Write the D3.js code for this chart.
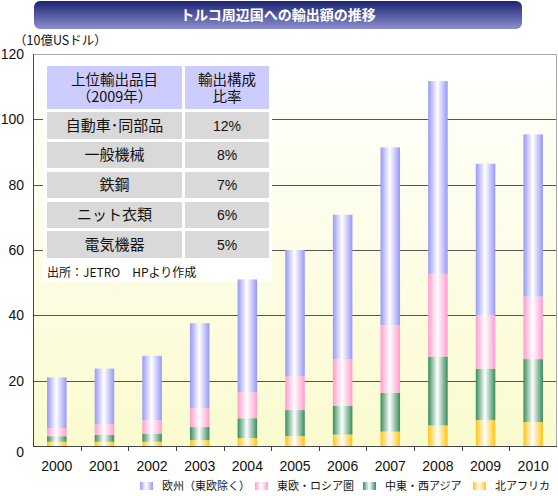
<!DOCTYPE html>
<html>
<head>
<meta charset="utf-8">
<script src="https://cdn.jsdelivr.net/npm/d3@7"></script>
<style type="text/css">
  body{
    margin: 0px;
    background: white;
  }
  text{
    font-family: 'Liberation Sans', 'Noto Sans CJK JP', sans-serif;
    fill: #111;
  }
  .jp{
    font-family: 'Noto Sans CJK JP', sans-serif;
  }
  .grid line{
    stroke: #555;
    stroke-width: 1px;
  }
</style>
</head>
<body>
<script>

// ---- data ----
var years = ["2000","2001","2002","2003","2004","2005","2006","2007","2008","2009","2010"];

var northAfrica = [1.3, 1.3, 1.3, 1.8, 2.4, 3.0, 3.5, 4.4, 6.3, 7.9, 7.3];
var middleEast  = [1.7, 2.1, 2.5, 4.0, 6.1, 8.0, 8.8, 11.9, 21.1, 15.8, 19.3];
var eastEurope  = [2.5, 3.3, 4.1, 5.8, 8.0, 10.4, 14.2, 20.7, 25.3, 16.4, 19.1];
var europe      = [15.5, 17.0, 19.7, 26.0, 34.5, 38.6, 44.3, 54.4, 59.0, 46.3, 49.7];

// stack order: bottom first
var seriesNames  = ["北アフリカ", "中東・西アジア", "東欧・ロシア圏", "欧州（東欧除く）"];
var seriesValues = [northAfrica, middleEast, eastEurope, europe];
var seriesColors = ["#ffc414", "#388d5c", "#ff9ccf", "#9898f6"];

var yTicks = [0, 20, 40, 60, 80, 100, 120];

var tableHeader = ["上位輸出品目\n（2009年）", "輸出構成\n比率"];
var tableItems  = ["自動車･同部品", "一般機械", "鉄鋼", "ニット衣類", "電気機器"];
var tableShares = ["12%", "8%", "7%", "6%", "5%"];

var titleText  = "トルコ周辺国への輸出額の推移";
var unitText   = "（10億USドル）";
var sourceText = "出所：JETRO　HPより作成";

// ---- layout ----
var W = 558, H = 496;
var plot = {left: 33, right: 557, top: 54, bottom: 446};

var svg = d3.select("body").append("svg")
    .attr("width", W)
    .attr("height", H);

var defs = svg.append("defs");

// title banner gradient
var tg = defs.append("linearGradient").attr("id", "titleGrad")
    .attr("x1", 0).attr("y1", 0).attr("x2", 0).attr("y2", 1);
tg.append("stop").attr("offset", "0%").attr("stop-color", "#1b2370");
tg.append("stop").attr("offset", "100%").attr("stop-color", "#8d8fcf");

// plot background
var bg = defs.append("linearGradient").attr("id", "bgGrad")
    .attr("x1", 0).attr("y1", 0).attr("x2", 0).attr("y2", 1);
bg.append("stop").attr("offset", "0%").attr("stop-color", "#ffffff");
bg.append("stop").attr("offset", "100%").attr("stop-color", "#fbfbcf");

// cylinder-like gradients for the bars
seriesColors.forEach(function(c, i) {
  var g = defs.append("linearGradient").attr("id", "barGrad" + i)
      .attr("x1", 0).attr("y1", 0).attr("x2", 1).attr("y2", 0);
  g.append("stop").attr("offset", "0%").attr("stop-color", c);
  g.append("stop").attr("offset", "47%").attr("stop-color", "#ffffff");
  g.append("stop").attr("offset", "100%").attr("stop-color", c);
});

// title
svg.append("rect")
    .attr("x", 34).attr("y", 1)
    .attr("width", 488).attr("height", 28)
    .attr("rx", 6)
    .attr("fill", "url(#titleGrad)");

svg.append("text")
    .attr("class", "jp")
    .attr("x", 278).attr("y", 20)
    .attr("text-anchor", "middle")
    .style("font-size", "14px")
    .style("font-weight", "bold")
    .style("fill", "white")
    .text(titleText);

svg.append("text")
    .attr("class", "jp")
    .attr("x", 14).attr("y", 45)
    .style("font-size", "12.5px")
    .text(unitText);

// scales
var x = d3.scaleBand()
    .domain(years)
    .range([plot.left, plot.right])
    .paddingInner(0.59)
    .paddingOuter(0.295);

var y = d3.scaleLinear()
    .domain([0, 120])
    .range([plot.bottom, plot.top]);

// plot background
svg.append("rect")
    .attr("x", plot.left).attr("y", plot.top)
    .attr("width", plot.right - plot.left).attr("height", plot.bottom - plot.top)
    .attr("fill", "url(#bgGrad)");

// gridlines
svg.append("g").attr("class", "grid")
  .selectAll("line")
  .data(yTicks.filter(function(d) { return d > 0 && d < 120; }))
  .enter().append("line")
    .attr("x1", plot.left).attr("x2", plot.right)
    .attr("y1", function(d) { return Math.round(y(d)) + 0.5; })
    .attr("y2", function(d) { return Math.round(y(d)) + 0.5; });

// frame top/right
svg.append("path")
    .attr("d", "M" + plot.left + "," + (plot.top + 0.5) + "H" + (plot.right - 0.5) + "V" + plot.bottom)
    .attr("fill", "none")
    .attr("stroke", "#a8a8a8");

// white box behind the table
svg.append("rect")
    .attr("x", 43).attr("y", 60)
    .attr("width", 229).attr("height", 222)
    .attr("fill", "white");

// stacked bars
var stackRows = years.map(function(yr, i) {
  var r = {year: yr};
  seriesNames.forEach(function(n, k) { r[n] = seriesValues[k][i]; });
  return r;
});
var stacked = d3.stack().keys(seriesNames)(stackRows);

svg.append("g").selectAll("g")
  .data(stacked)
  .enter().append("g")
    .attr("fill", function(d, i) { return "url(#barGrad" + i + ")"; })
  .selectAll("rect")
  .data(function(d) { return d; })
  .enter().append("rect")
    .attr("x", function(d) { return x(d.data.year); })
    .attr("width", x.bandwidth())
    .attr("y", function(d) { return y(d[1]); })
    .attr("height", function(d) { return y(d[0]) - y(d[1]); });

// axes
svg.append("line")
    .attr("x1", plot.left + 0.5).attr("x2", plot.left + 0.5)
    .attr("y1", plot.top).attr("y2", plot.bottom + 1)
    .attr("stroke", "#444");

svg.append("line")
    .attr("x1", plot.left).attr("x2", plot.right)
    .attr("y1", plot.bottom + 0.5).attr("y2", plot.bottom + 0.5)
    .attr("stroke", "#444");

// category boundary ticks
var step = x.step();
svg.append("g").selectAll("line")
  .data(years.slice(1))
  .enter().append("line")
    .attr("x1", function(d) { return Math.round(x(d) - (step - x.bandwidth()) / 2) + 0.5; })
    .attr("x2", function(d) { return Math.round(x(d) - (step - x.bandwidth()) / 2) + 0.5; })
    .attr("y1", plot.bottom).attr("y2", plot.bottom + 5)
    .attr("stroke", "#444");

// y tick labels
svg.append("g").selectAll("text")
  .data(yTicks)
  .enter().append("text")
    .attr("x", 24)
    .attr("y", function(d) { return y(d) + (d === 0 ? 11 : 5); })
    .attr("text-anchor", "end")
    .style("font-size", "14px")
    .text(function(d) { return d; });

// x tick labels
svg.append("g").selectAll("text")
  .data(years)
  .enter().append("text")
    .attr("x", function(d) { return x(d) + x.bandwidth() / 2; })
    .attr("y", 471)
    .attr("text-anchor", "middle")
    .style("font-size", "14px")
    .text(function(d) { return d; });

// table
var col = [{x: 47, w: 135}, {x: 185, w: 84}];
var rowY = [66, 112, 142, 172, 202, 231];
var rowH = [43, 27, 26, 26, 26, 27];

var header = svg.append("g");
tableHeader.forEach(function(t, c) {
  header.append("rect")
      .attr("x", col[c].x).attr("y", rowY[0])
      .attr("width", col[c].w).attr("height", rowH[0])
      .attr("fill", "#ccccff");
  var txt = header.append("text")
      .attr("class", "jp")
      .attr("text-anchor", "middle")
      .style("font-size", "14.5px");
  t.split("\n").forEach(function(l, j) {
    txt.append("tspan")
        .attr("x", col[c].x + col[c].w / 2)
        .attr("y", rowY[0] + 19 + j * 17)
        .text(l);
  });
});

tableItems.forEach(function(item, i) {
  var cells = [item, tableShares[i]];
  cells.forEach(function(t, c) {
    svg.append("rect")
        .attr("x", col[c].x).attr("y", rowY[i + 1])
        .attr("width", col[c].w).attr("height", rowH[i + 1])
        .attr("fill", "#d9d9d9");
    svg.append("text")
        .attr("class", c === 0 ? "jp" : null)
        .attr("x", col[c].x + col[c].w / 2)
        .attr("y", rowY[i + 1] + rowH[i + 1] / 2 + 5)
        .attr("text-anchor", "middle")
        .style("font-size", c === 0 ? "15px" : "14px")
        .text(t);
  });
});

svg.append("text")
    .attr("class", "jp")
    .attr("x", 47).attr("y", 277)
    .style("font-size", "12px")
    .text(sourceText);

// legend (drawn left to right, reversed stack order)
var legendX = [140, 255, 363, 473];
var legendOrder = [3, 2, 1, 0];
var legend = svg.append("g");
legendOrder.forEach(function(k, i) {
  legend.append("rect")
      .attr("x", legendX[i]).attr("y", 482)
      .attr("width", 13).attr("height", 8)
      .attr("fill", "url(#barGrad" + k + ")");
  legend.append("text")
      .attr("class", "jp")
      .attr("x", legendX[i] + 22).attr("y", 490)
      .style("font-size", "11px")
      .text(seriesNames[k]);
});

</script>
</body>
</html>
